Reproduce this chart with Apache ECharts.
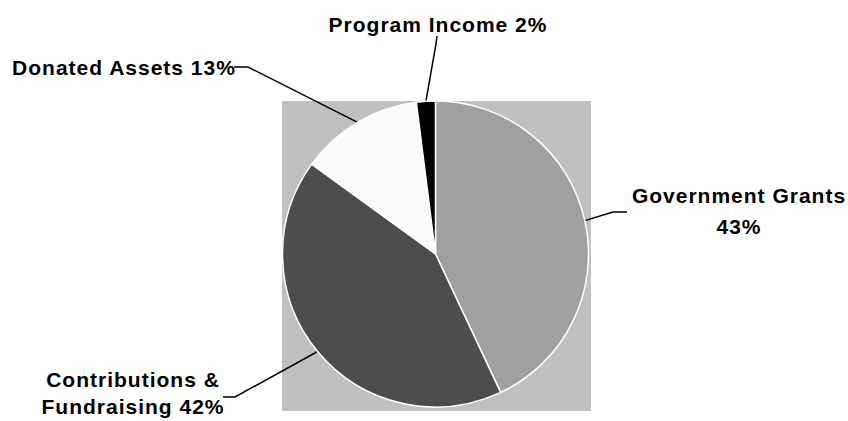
<!DOCTYPE html>
<html>
<head>
<meta charset="utf-8">
<script src="https://cdn.jsdelivr.net/npm/echarts@6/dist/echarts.min.js"></script>
<style>
  html, body { margin: 0; padding: 0; background: #ffffff; }
  #chart { width: 848px; height: 421px; letter-spacing: 1px; }
</style>
</head>
<body>
<div id="chart"></div>
<script>
// ---- data ----
const categories = ['Government Grants', 'Contributions &\nFundraising', 'Donated Assets', 'Program Income'];
const values = [43, 42, 13, 2];
const labelSeparators = ['\n', ' ', ' ', ' '];

// ---- styles ----
const sliceColors = ['#a0a0a0', '#4d4d4d', '#fcfcfc', '#000000'];
const labelLineHeights = [31, 27, 24, 24];

// ---- label placement (label block centre, leader elbow and leader end) ----
const labelPlacement = [
  { x: 739, y: 211, elbow: [613, 212], end: [627, 212] },
  { x: 133, y: 393, elbow: [235, 397], end: [223, 397] },
  { x: 124, y: 67,  elbow: [248, 67],  end: [234, 67] },
  { x: 438, y: 24,  elbow: [436, 44],  end: [437, 36] }
];

const chart = echarts.init(document.getElementById('chart'), null, { renderer: 'svg' });

const seriesData = categories.map((name, i) => ({
  name: name,
  value: values[i],
  itemStyle: { color: sliceColors[i] },
  label: { lineHeight: labelLineHeights[i] }
}));

const option = {
  animation: false,
  backgroundColor: '#ffffff',
  graphic: [{
    type: 'rect',
    z: -1,
    silent: true,
    shape: { x: 282, y: 101, width: 309, height: 310 },
    style: { fill: '#c0c0c0' }
  }],
  series: [{
    type: 'pie',
    center: [435.5, 254],
    radius: 153,
    startAngle: 90,
    clockwise: true,
    avoidLabelOverlap: false,
    data: seriesData,
    itemStyle: { borderColor: '#ffffff', borderWidth: 1.5 },
    label: {
      show: true,
      position: 'outside',
      color: '#000000',
      fontFamily: '"Liberation Sans", Arial, Helvetica, sans-serif',
      fontWeight: 'bold',
      fontSize: 21,
      formatter: function (p) {
        return p.name + labelSeparators[p.dataIndex] + Math.round(p.percent) + '%';
      }
    },
    labelLine: {
      show: true,
      length: 20,
      length2: 12,
      smooth: false,
      lineStyle: { color: '#000000', width: 1.5 }
    },
    labelLayout: function (params) {
      const p = labelPlacement[params.dataIndex];
      const out = { x: p.x, y: p.y, align: 'center', verticalAlign: 'middle' };
      if (params.labelLinePoints && params.labelLinePoints.length) {
        out.labelLinePoints = [params.labelLinePoints[0], p.elbow, p.end];
      }
      return out;
    },
    emphasis: { disabled: true }
  }]
};

chart.setOption(option);
</script>
</body>
</html>
